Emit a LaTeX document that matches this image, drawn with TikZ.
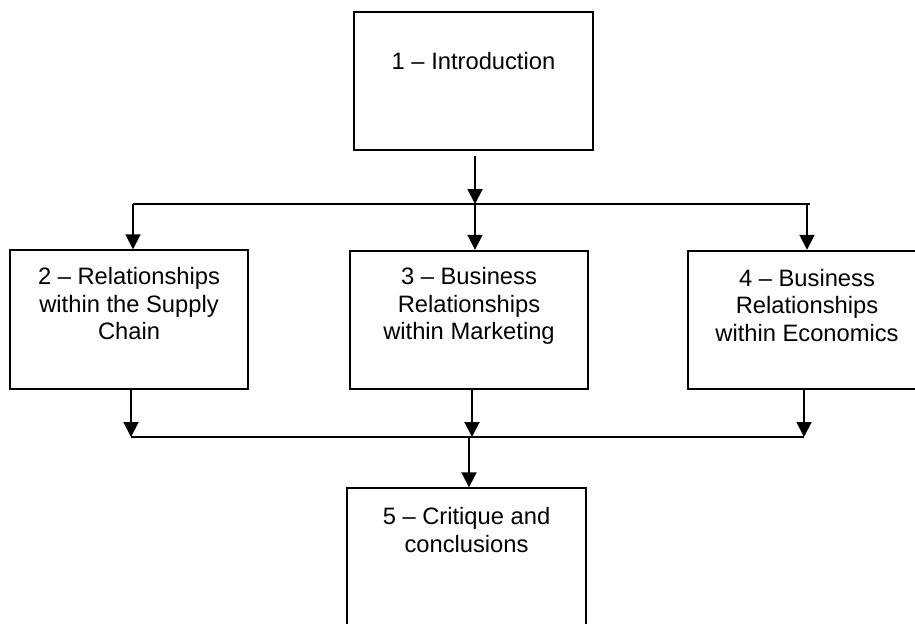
\documentclass[tikz,border=0pt]{standalone}
\usepackage{fontspec}
\setmainfont{Liberation Sans}
\usepackage{tikz}
\usetikzlibrary{positioning,arrows.meta}

\begin{document}
\begin{tikzpicture}[
  box/.style={draw, line width=1.1pt, minimum width=4.77cm, minimum height=2.77cm, inner sep=0pt},
  txt/.style={align=center, inner sep=0pt, font=\fontsize{13.5pt}{15.65pt}\selectfont},
  arr/.style={line width=1.1pt, -{Triangle[length=0.3cm,width=0.3cm]}},
  bus/.style={line width=1.1pt}]

\clip (0,0) rectangle (18.3,-12.46);

\node[box](b1) at (9.47,-1.62) {};
\node[box](b2) at (2.58,-6.39) {};
\node[box](b3) at (9.38,-6.40) {};
\node[box](b4) at (16.14,-6.40) {};
\node[box](b5) at (9.33,-11.15) {};

\node[txt, below=0.82cm of b1.north](t1) {1 – Introduction};
\node[txt, below=0.36cm of b2.north](t2) {2 – Relationships\\within the Supply\\Chain};
\node[txt, below=0.35cm of b3.north](t3) {3 – Business\\Relationships\\within Marketing};
\node[txt, below=0.38cm of b4.north](t4) {4 – Business\\Relationships\\within Economics};
\node[txt, below=0.40cm of b5.north](t5) {5 – Critique and\\conclusions};

% top bus
\coordinate (jl) at (2.66,-4.08);
\coordinate (jm) at (9.50,-4.08);
\coordinate (jr) at (16.14,-4.08);
\draw[bus](jl)--(16.2,-4.08);
\draw[arr]([yshift=-0.1cm]b1.south -| jm)--(jm);
\draw[arr](jl)--(jl |- b2.north);
\draw[arr](jm)--(jm |- b3.north);
\draw[arr](jr)--(jr |- b4.north);

% bottom bus
\coordinate (kl) at (2.62,-8.74);
\coordinate (km) at (9.44,-8.74);
\coordinate (kr) at (16.08,-8.74);
\coordinate (ko) at (9.38,-8.74);
\draw[bus](kl)--(kr);
\draw[arr](kl |- b2.south)--(kl);
\draw[arr](km |- b3.south)--(km);
\draw[arr](kr |- b4.south)--(kr);
\draw[arr](ko)--(ko |- b5.north);

\end{tikzpicture}
\end{document}
